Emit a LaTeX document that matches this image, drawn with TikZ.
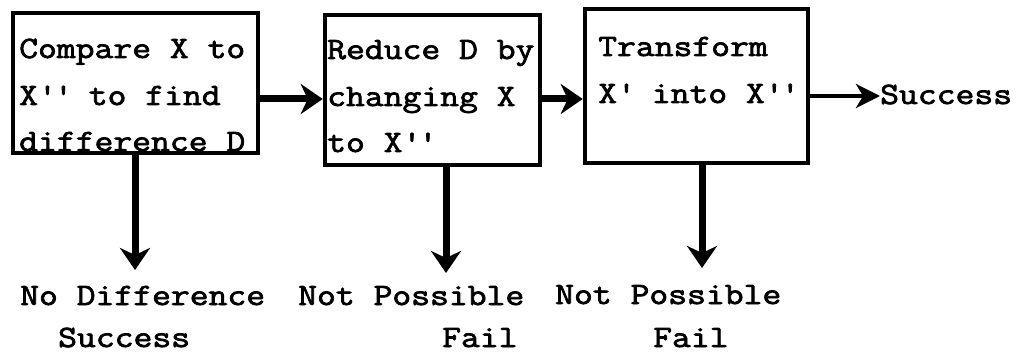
\documentclass[tikz,border=0pt]{standalone}
\usepackage{fontspec}
\newfontfamily\tw{Latin Modern Mono}[FakeBold=2.4,FakeStretch=1.18]
\usetikzlibrary{arrows.meta}
\newcommand\myq{\textquotesingle}
\begin{document}
\begin{tikzpicture}[x=1pt,y=-1pt,
  box/.style={draw=black,line width=4.5pt,inner sep=0pt},
  txt/.style={inner sep=0pt,anchor=base west,text depth=0pt,font=\tw\fontsize{31}{36}\selectfont},
  arr/.style={line width=7pt,-{Stealth[length=22pt,width=30pt,inset=7pt]}},
  thinarr/.style={line width=4pt,-{Stealth[length=24pt,width=24pt,inset=7pt]}}]
\useasboundingbox (0,0) rectangle (1032,355);
% boxes
\node[box,minimum width=245pt,minimum height=140pt] (b1) at (135.5,83) {};
\node[box,minimum width=215pt,minimum height=150pt] (b2) at (432.5,90) {};
\node[box,minimum width=223pt,minimum height=154pt] (b3) at (696.5,86) {};
% box texts
\node[txt] (t11) at (19,58) {Compare X to};
\node[txt] (t12) at (19,105) {X\myq\myq{} to find};
\node[txt] (t13) at (19,151) {difference D};
\node[txt] (t21) at (327,59) {Reduce D by};
\node[txt] (t22) at (327,106) {changing X};
\node[txt] (t23) at (327,152) {to X\myq\myq};
\node[txt] (t31) at (598,56) {Transform};
\node[txt] (t32) at (598,103) {X\myq{} into X\myq\myq};
\node[txt] (succ) at (880,104) {Success};
% bottom texts
\node[txt] (n1) at (20,305) {No Difference};
\node[txt] (n1b) at (58,347) {Success};
\node[txt] (n2) at (298,305) {Not Possible};
\node[txt] (n2b) at (442,347) {Fail};
\node[txt] (n3) at (555,304) {Not Possible};
\node[txt] (n3b) at (653,347) {Fail};
% arrow ends
\coordinate (e1) at (135,270);
\coordinate (e2) at (446,273);
\coordinate (e3) at (702,268);
% connectors
\draw[arr] (b1.east |- 0,99) -- (b2.west |- 0,99);
\draw[arr] (b2.east |- 0,99) -- (b3.west |- 0,99);
\draw[thinarr] (b3.east |- 0,96) -- (succ.west |- 0,96);
\draw[arr] (b1.south -| e1) -- (e1);
\draw[arr] (b2.south -| e2) -- (e2);
\draw[arr] (b3.south -| e3) -- (e3);
\end{tikzpicture}
\end{document}
